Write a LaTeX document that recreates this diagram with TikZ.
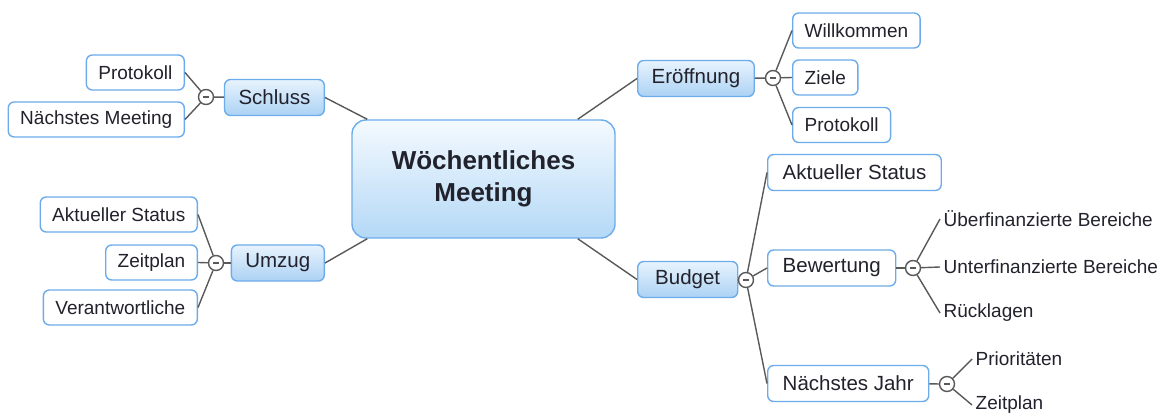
\documentclass[tikz,border=0pt]{standalone}
\usepackage{fontspec}
\setmainfont{Liberation Sans}
\usepackage{tikz}
\usetikzlibrary{positioning}
\definecolor{frame}{RGB}{108, 172, 234}
\definecolor{topiclight}{RGB}{232, 243, 253}
\definecolor{topicdark}{RGB}{172, 210, 244}
\definecolor{centerlight}{RGB}{244, 250, 255}
\definecolor{centerdark}{RGB}{180, 216, 246}
\definecolor{gray35}{gray}{0.35}
\definecolor{ink}{RGB}{34, 34, 44}

\begin{document}
\begin{tikzpicture}[x=1pt, y=-1pt, line width=1.4pt,
        meeting/.style={draw=frame, rounded corners=14pt, top color=centerlight,
                bottom color=centerdark, minimum width=263pt, minimum height=118pt,
                align=center, text=ink, font=\fontsize{26}{32}\selectfont\bfseries},
        topic/.style={draw=frame, rounded corners=6pt, top color=topiclight,
                bottom color=topicdark, minimum height=36pt, inner xsep=14pt,
                text=ink, font=\fontsize{20.5}{24}\selectfont},
        subtopic/.style={draw=frame, rounded corners=6pt, fill=white,
                minimum height=36pt, inner xsep=15pt,
                text=ink, font=\fontsize{20.5}{24}\selectfont},
        leaf/.style={draw=frame, rounded corners=6pt, fill=white,
                minimum height=35pt, inner xsep=12pt,
                text=ink, font=\fontsize{19}{22}\selectfont},
        note/.style={inner sep=3pt, text=ink, font=\fontsize{19}{22}\selectfont},
        knob/.style={circle, draw=gray35, fill=white, minimum size=15pt, inner sep=0pt},
        link/.style={draw=gray35, line width=1.4pt}]

    \useasboundingbox (0, 0) rectangle (1170, 414);

    % centre
    \node[meeting] (meeting) at (483.5, 179) {Wöchentliches\\Meeting};

    % branches
    \node[topic, anchor=west] (eroeffnung) at (637, 78.5) {Eröffnung};
    \node[topic, anchor=west, minimum width=100pt] (budget) at (637, 279.5) {Budget};
    \node[topic, anchor=east] (schluss) at (325, 97.5) {Schluss};
    \node[topic, anchor=east] (umzug) at (325, 263) {Umzug};

    \draw[link] (eroeffnung.west) -- ([xshift=-38pt]meeting.north east);
    \draw[link] (budget.west) -- ([xshift=-38pt]meeting.south east);
    \draw[link] (schluss.east) -- ([xshift=16pt]meeting.north west);
    \draw[link] (umzug.east) -- ([xshift=16pt]meeting.south west);

    % knobs
    \node[knob] (eknob) at (773, 78) {};
    \node[knob] (bknob) at (746, 280) {};
    \node[knob] (wknob) at (913, 268) {};
    \node[knob] (jknob) at (947, 384) {};
    \node[knob] (sknob) at (206, 97) {};
    \node[knob] (uknob) at (216, 263) {};

    % Eröffnung
    \node[leaf, anchor=west] (willkommen) at (792, 30.5) {Willkommen};
    \node[leaf, anchor=west] (ziele) at (792, 77.5) {Ziele};
    \node[leaf, anchor=west] (protokollr) at (792, 125) {Protokoll};

    % Budget
    \node[subtopic, anchor=west] (statusr) at (767, 172.5) {Aktueller Status};
    \node[subtopic, anchor=west] (bewertung) at (767, 268) {Bewertung};
    \node[subtopic, anchor=west] (jahr) at (767, 383.5) {Nächstes Jahr};

    \node[note, anchor=west] (ueber) at (940, 219) {Überfinanzierte Bereiche};
    \node[note, anchor=west] (unter) at (940, 267) {Unterfinanzierte Bereiche};
    \node[note, anchor=west] (ruecklagen) at (940, 313) {Rücklagen};

    \node[note, anchor=west] (prioritaeten) at (972, 359) {Prioritäten};
    \node[note, anchor=west] (zeitplanr) at (972, 405) {Zeitplan};

    % Schluss
    \node[leaf, anchor=east] (protokolll) at (185, 72.5) {Protokoll};
    \node[leaf, anchor=east] (naechstes) at (185, 119.5) {Nächstes Meeting};

    % Umzug
    \node[leaf, anchor=east] (statusl) at (198, 214.5) {Aktueller Status};
    \node[leaf, anchor=east] (zeitplanl) at (198, 262.5) {Zeitplan};
    \node[leaf, anchor=east] (verantwortliche) at (198, 307.5) {Verantwortliche};

    \draw[link] (eroeffnung) -- (eknob);
    \draw[link] (budget) -- (bknob);
    \draw[link] (bewertung) -- (wknob);
    \draw[link] (jahr) -- (jknob);
    \draw[link] (schluss) -- (sknob);
    \draw[link] (umzug) -- (uknob);

    \foreach \leaf in {willkommen, ziele, protokollr} {
            \draw[link] (eknob) -- (\leaf.west);
        }
    \foreach \leaf in {statusr, bewertung, jahr} {
            \draw[link] (bknob) -- (\leaf.west);
        }
    \foreach \leaf in {ueber, unter, ruecklagen} {
            \draw[link] (wknob) -- (\leaf.west);
        }
    \foreach \leaf in {prioritaeten, zeitplanr} {
            \draw[link] (jknob) -- (\leaf.west);
        }
    \foreach \leaf in {protokolll, naechstes} {
            \draw[link] (sknob) -- (\leaf.east);
        }
    \foreach \leaf in {statusl, zeitplanl, verantwortliche} {
            \draw[link] (uknob) -- (\leaf.east);
        }

    \foreach \k in {eknob, bknob, wknob, jknob, sknob, uknob} {
            \draw[gray35, line width=1.2pt] ([xshift=-3pt]\k.center) -- ([xshift=3pt]\k.center);
        }

\end{tikzpicture}
\end{document}
